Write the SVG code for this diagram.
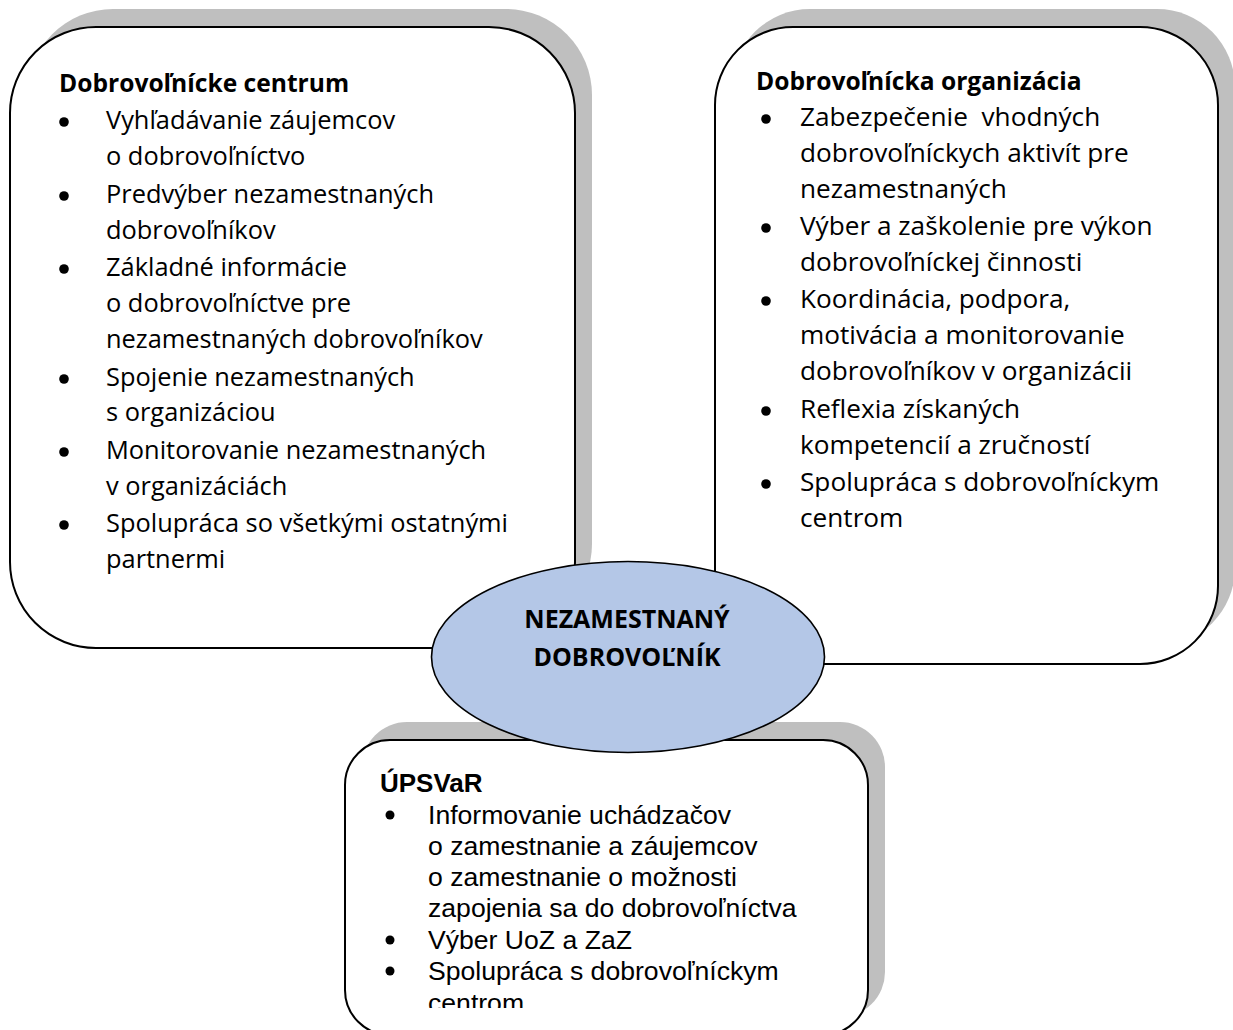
<svg xmlns="http://www.w3.org/2000/svg" width="1233" height="1030" viewBox="0 0 1233 1030">
  <defs>
    <style>
      .shadow { fill: #bfbfbf; stroke: none; }
      .box { fill: #ffffff; stroke: #000000; stroke-width: 2; }
      .hdr { font-family: "Open Sans", "Liberation Sans", sans-serif; font-size: 24.6px; font-weight: bold; fill: #000; }
      .txt { font-family: "Open Sans", "Liberation Sans", sans-serif; font-size: 25.4px; fill: #000; }
      .txt2 { font-family: "Open Sans", "Liberation Sans", sans-serif; font-size: 26.2px; fill: #000; white-space: pre; }
      .ahdr { font-family: "Liberation Sans", Arial, sans-serif; font-size: 26px; font-weight: bold; fill: #000; }
      .atxt { font-family: "Liberation Sans", Arial, sans-serif; font-size: 26.6px; fill: #000; }
      .bul { fill: #000; }
      .ell { fill: #b4c7e7; stroke: #000; stroke-width: 1.6; }
      .ehdr { font-family: "Open Sans", "Liberation Sans", sans-serif; font-size: 25px; font-weight: bold; fill: #000; text-anchor: middle; }
    </style>
    <clipPath id="clipBottom">
      <rect x="345" y="740" width="523" height="268"/>
    </clipPath>
  </defs>

  <g id="node-dobrovolnicke-centrum">
    <rect class="shadow" x="27" y="9" width="565" height="621" rx="86" ry="86"/>
    <rect class="box" x="10" y="27" width="565" height="621" rx="86" ry="86"/>
    <text class="hdr" x="59" y="92">Dobrovoľnícke centrum</text>
    <circle class="bul" cx="64" cy="122" r="4.8"/>
    <text class="txt" x="106" y="129">Vyhľadávanie záujemcov</text>
    <text class="txt" x="106" y="165">o dobrovoľníctvo</text>
    <circle class="bul" cx="64" cy="196" r="4.8"/>
    <text class="txt" x="106" y="203">Predvýber nezamestnaných</text>
    <text class="txt" x="106" y="239">dobrovoľníkov</text>
    <circle class="bul" cx="64" cy="269" r="4.8"/>
    <text class="txt" x="106" y="276">Základné informácie</text>
    <text class="txt" x="106" y="312">o dobrovoľníctve pre</text>
    <text class="txt" x="106" y="348">nezamestnaných dobrovoľníkov</text>
    <circle class="bul" cx="64" cy="379" r="4.8"/>
    <text class="txt" x="106" y="386">Spojenie nezamestnaných</text>
    <text class="txt" x="106" y="421">s organizáciou</text>
    <circle class="bul" cx="64" cy="452" r="4.8"/>
    <text class="txt" x="106" y="459">Monitorovanie nezamestnaných</text>
    <text class="txt" x="106" y="495">v organizáciách</text>
    <circle class="bul" cx="64" cy="525" r="4.8"/>
    <text class="txt" x="106" y="532">Spolupráca so všetkými ostatnými</text>
    <text class="txt" x="106" y="568">partnermi</text>
  </g>

  <g id="node-dobrovolnicka-organizacia">
    <rect class="shadow" x="732" y="9" width="503" height="637" rx="78" ry="78"/>
    <rect class="box" x="715" y="27" width="503" height="637" rx="78" ry="78"/>
    <text class="hdr" x="756" y="90">Dobrovoľnícka organizácia</text>
    <circle class="bul" cx="766" cy="119" r="4.8"/>
    <text class="txt2" x="800" y="126" xml:space="preserve">Zabezpečenie  vhodných</text>
    <text class="txt2" x="800" y="162">dobrovoľníckych aktivít pre</text>
    <text class="txt2" x="800" y="198">nezamestnaných</text>
    <circle class="bul" cx="766" cy="228" r="4.8"/>
    <text class="txt2" x="800" y="235">Výber a zaškolenie pre výkon</text>
    <text class="txt2" x="800" y="271">dobrovoľníckej činnosti</text>
    <circle class="bul" cx="766" cy="301" r="4.8"/>
    <text class="txt2" x="800" y="308">Koordinácia, podpora,</text>
    <text class="txt2" x="800" y="344">motivácia a monitorovanie</text>
    <text class="txt2" x="800" y="380">dobrovoľníkov v organizácii</text>
    <circle class="bul" cx="766" cy="411" r="4.8"/>
    <text class="txt2" x="800" y="418">Reflexia získaných</text>
    <text class="txt2" x="800" y="454">kompetencií a zručností</text>
    <circle class="bul" cx="766" cy="484" r="4.8"/>
    <text class="txt2" x="800" y="491">Spolupráca s dobrovoľníckym</text>
    <text class="txt2" x="800" y="527">centrom</text>
  </g>

  <g id="node-upsvar">
    <rect class="shadow" x="362" y="722" width="523" height="295" rx="45" ry="45"/>
    <rect class="box" x="345" y="740" width="523" height="295" rx="45" ry="45"/>
    <g clip-path="url(#clipBottom)">
      <text class="ahdr" x="380" y="792">ÚPSVaR</text>
      <circle class="bul" cx="390" cy="815" r="4.5"/>
      <text class="atxt" x="428" y="824">Informovanie uchádzačov</text>
      <text class="atxt" x="428" y="855">o zamestnanie a záujemcov</text>
      <text class="atxt" x="428" y="886">o zamestnanie o možnosti</text>
      <text class="atxt" x="428" y="917">zapojenia sa do dobrovoľníctva</text>
      <circle class="bul" cx="390" cy="940" r="4.5"/>
      <text class="atxt" x="428" y="949">Výber UoZ a ZaZ</text>
      <circle class="bul" cx="390" cy="971" r="4.5"/>
      <text class="atxt" x="428" y="980">Spolupráca s dobrovoľníckym</text>
      <text class="atxt" x="428" y="1012">centrom</text>
    </g>
  </g>

  <g id="connectors"></g>

  <g id="node-nezamestnany-dobrovolnik">
    <ellipse class="ell" cx="628" cy="657" rx="196.5" ry="95.5"/>
    <text class="ehdr" x="627" y="628">NEZAMESTNANÝ</text>
    <text class="ehdr" x="627" y="666">DOBROVOĽNÍK</text>
  </g>
</svg>
